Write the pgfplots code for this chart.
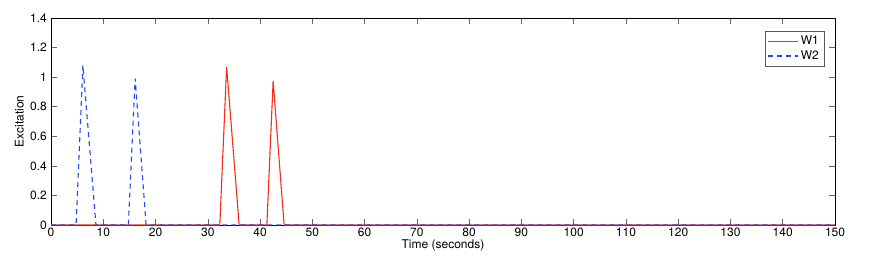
\documentclass[border=0pt]{standalone}
\usepackage{fontspec}
\setmainfont{TeX Gyre Heros}
\usepackage{pgfplots}
\pgfplotsset{compat=1.18}
\definecolor{wred}{RGB}{245,45,20}
\definecolor{wblue}{RGB}{35,70,250}
\definecolor{lframe}{RGB}{90,90,90}
\begin{document}
\fontsize{12}{14}\selectfont
\begin{tikzpicture}
\path[use as bounding box] (0,0) rectangle (885pt,257pt);
\begin{axis}[
  at={(51pt,32pt)}, anchor=south west,
  scale only axis, width=784pt, height=207pt,
  xmin=0, xmax=150, ymin=0, ymax=1.4,
  xtick={0,10,...,150}, ytick={0,0.2,...,1.4},
  yticklabels={0,0.2,0.4,0.6,0.8,1,1.2,1.4},
  tick align=inside, major tick length=6pt,
  tick style={black!60, line width=0.6pt},
  axis line style={black, line width=0.6pt},
  /pgf/number format/assume math mode=true,
  ticklabel style={font=\fontsize{12}{14}\selectfont},
  xticklabel style={yshift=1pt},
  xlabel={Time (seconds)}, ylabel={Excitation},
  label style={font=\fontsize{12}{14}\selectfont},
  xlabel style={yshift=5pt},
  ylabel style={yshift=-2pt},
  legend style={at={(1,1)}, anchor=north east, xshift=-11pt, yshift=-13pt,
    draw=lframe, inner sep=3pt},
  legend image code/.code={\draw[#1] (0pt,0pt) -- (30pt,0pt);},
  legend cell align=left,
]
\addplot[color=wred, line width=1.1pt, forget plot] coordinates {
 (0,0) (32.3,0) (33.6,1.07) (36.0,0) (41.3,0) (42.5,0.974) (44.6,0) (150,0)};
\addplot[color=wblue, line width=1.1pt, dash pattern=on 5pt off 4pt, forget plot] coordinates {
 (0,0) (4.8,0) (6.1,1.08) (8.6,0) (14.8,0) (16.1,0.99) (18.2,0) (150,0)};
\addlegendimage{color=wred, fill=wred, legend image code/.code={\fill[wred, draw=none] (0pt,-0.55pt) rectangle (30pt,0.55pt);}}
\addlegendentry{W1}
\addlegendimage{color=wblue, draw=wblue, line width=1.1pt, dash pattern=on 5pt off 4pt}
\addlegendentry{W2}
\end{axis}
\end{tikzpicture}
\end{document}
